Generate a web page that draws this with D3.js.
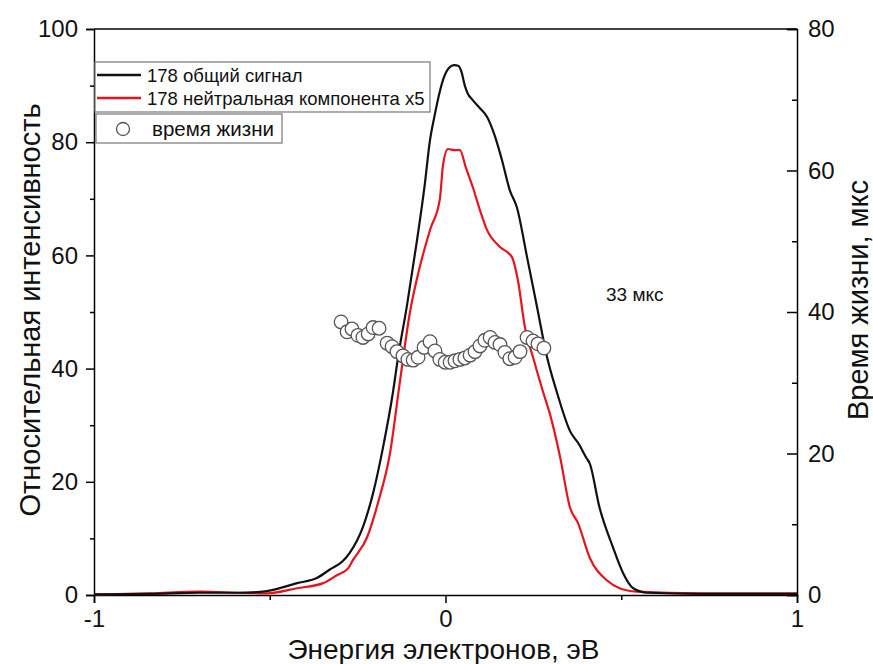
<!DOCTYPE html>
<html lang="ru">
<head>
<meta charset="utf-8">
<script src="https://d3js.org/d3.v7.min.js"></script>
<style>
  body { margin: 0; background: #fff; }
  text { font-family: "Liberation Sans", Arial, sans-serif; }
</style>
</head>
<body>
<script>
// total signal (left axis)
const totalE = [-1.0, -0.84, -0.70, -0.585, -0.508, -0.422, -0.366, -0.329, -0.292, -0.272, -0.235, -0.206, -0.178, -0.149, -0.135, -0.110, -0.081, -0.060, -0.044, -0.030, -0.016, -0.007, 0.002, 0.013, 0.025, 0.036, 0.045, 0.055, 0.064, 0.075, 0.098, 0.118, 0.141, 0.160, 0.183, 0.203, 0.232, 0.260, 0.289, 0.316, 0.354, 0.381, 0.401, 0.410, 0.438, 0.476, 0.505, 0.534, 0.574, 0.724, 1.0];
const totalI = [0.1, 0.2, 0.4, 0.4, 0.7, 2.1, 3.0, 4.5, 6.0, 7.5, 12.0, 18.0, 26, 36, 42, 51, 62.7, 72, 80.4, 85, 89, 91, 92.4, 93.3, 93.6, 93.5, 92.5, 90, 88.5, 87.6, 86, 84.5, 81, 77, 71.5, 68.5, 59.7, 51, 42, 36, 29, 26.5, 24.2, 23.3, 15.5, 8.5, 3.9, 1.2, 0.4, 0.2, 0.2];

// neutral component x5 (left axis)
const neutralE = [-1.0, -0.84, -0.70, -0.585, -0.508, -0.422, -0.348, -0.309, -0.277, -0.263, -0.223, -0.192, -0.158, -0.129, -0.101, -0.073, -0.044, -0.016, -0.007, 0.007, 0.027, 0.041, 0.058, 0.078, 0.098, 0.118, 0.155, 0.189, 0.206, 0.226, 0.249, 0.277, 0.297, 0.326, 0.354, 0.377, 0.411, 0.459, 0.495, 0.544, 0.724, 1.0];
const neutralI = [0.1, 0.3, 0.6, 0.4, 0.3, 1.2, 2.1, 3.5, 4.7, 6.2, 10.2, 16.3, 25, 38, 50, 58, 64.5, 70, 76, 78.8, 78.6, 78.6, 75.5, 72, 68, 64.5, 61.5, 59.7, 55.6, 47.3, 42, 36, 32, 24.4, 15.5, 12.7, 6.5, 2.6, 1.2, 0.6, 0.3, 0.3];

// lifetime, mks (right axis)
const lifeE = [-0.297, -0.280, -0.266, -0.249, -0.235, -0.220, -0.206, -0.189, -0.166, -0.152, -0.138, -0.121, -0.107, -0.092, -0.078, -0.061, -0.044, -0.030, -0.016, -0.001, 0.013, 0.027, 0.041, 0.055, 0.070, 0.084, 0.098, 0.112, 0.127, 0.141, 0.155, 0.169, 0.183, 0.198, 0.212, 0.232, 0.249, 0.263, 0.280];
const lifeT = [38.6, 37.2, 37.6, 36.7, 36.4, 36.9, 37.8, 37.7, 35.6, 35.1, 34.4, 33.8, 33.3, 33.2, 33.6, 35.0, 35.8, 34.5, 33.3, 32.9, 32.9, 33.1, 33.3, 33.5, 33.9, 34.4, 35.2, 36.0, 36.4, 35.7, 35.4, 34.3, 33.4, 33.6, 34.4, 36.4, 35.9, 35.5, 34.9];

const xTicks = [-1, 0, 1];
const xMinor = [-0.5, 0.5];
const yLeftTicks = [0, 20, 40, 60, 80, 100];
const yLeftMinor = [10, 30, 50, 70, 90];
const yRightTicks = [0, 20, 40, 60, 80];
const yRightMinor = [10, 30, 50, 70];

const legendLabels = ["178 общий сигнал", "178 нейтральная компонента x5", "время жизни"];

const width = 873, height = 664;
const margin = {top: 29, right: 76, bottom: 69, left: 94};
const w = width - margin.left - margin.right;
const h = height - margin.top - margin.bottom;

const svg = d3.select("body").append("svg")
    .attr("width", width)
    .attr("height", height);
const g = svg.append("g")
    .attr("transform", `translate(${margin.left},${margin.top})`);

const x = d3.scaleLinear().domain([-1, 1]).range([0, w]);
const y = d3.scaleLinear().domain([0, 100]).range([h, 0]);
const y2 = d3.scaleLinear().domain([0, 80]).range([h, 0]);

// frame top
g.append("line").attr("x1", 0).attr("x2", w).attr("y1", 0).attr("y2", 0)
    .attr("stroke", "#000").attr("stroke-width", 1.3);

function styleAxis(sel) {
    sel.select(".domain").attr("stroke", "#000").attr("stroke-width", 1.5);
    sel.selectAll(".tick line").attr("stroke", "#000").attr("stroke-width", 1.5);
    sel.selectAll(".tick text").attr("font-size", 24).attr("fill", "#111")
        .style("font-family", "'Liberation Sans', Arial, sans-serif");
}
function minorLines(s) {
    s.select(".domain").remove();
    s.selectAll("line").attr("stroke", "#000").attr("stroke-width", 1.5);
}

// bottom axis
const xAx = g.append("g").attr("transform", `translate(0,${h})`)
    .call(d3.axisBottom(x).tickValues(xTicks).tickSize(8).tickPadding(7).tickFormat(d => String(d)));
styleAxis(xAx);
g.append("g").attr("transform", `translate(0,${h})`)
    .call(d3.axisBottom(x).tickValues(xMinor).tickSize(5).tickFormat(""))
    .call(minorLines);

// left axis
const yAx = g.append("g")
    .call(d3.axisLeft(y).tickValues(yLeftTicks).tickSize(8).tickPadding(8));
styleAxis(yAx);
g.append("g")
    .call(d3.axisLeft(y).tickValues(yLeftMinor).tickSize(4).tickFormat(""))
    .call(minorLines);

// right axis (ticks inward)
const y2Ax = g.append("g").attr("transform", `translate(${w},0)`)
    .call(d3.axisRight(y2).tickValues(yRightTicks).tickSize(-10).tickPadding(11));
styleAxis(y2Ax);
g.append("g").attr("transform", `translate(${w},0)`)
    .call(d3.axisRight(y2).tickValues(yRightMinor).tickSize(-5).tickFormat(""))
    .call(minorLines);

// curves
const line = d3.line().curve(d3.curveMonotoneX).x(d => x(d[0])).y(d => y(d[1]));
const totalData = totalE.map((e, i) => [e, totalI[i]]);
const neutralData = neutralE.map((e, i) => [e, neutralI[i]]);

g.append("path").datum(neutralData)
    .attr("fill", "none").attr("stroke", "#e8141c").attr("stroke-width", 2.2)
    .attr("stroke-linejoin", "round").attr("d", line);
g.append("path").datum(totalData)
    .attr("fill", "none").attr("stroke", "#111").attr("stroke-width", 2.2)
    .attr("stroke-linejoin", "round").attr("d", line);

// lifetime points
g.selectAll("circle.life")
    .data(lifeE.map((e, i) => [e, lifeT[i]]))
    .enter().append("circle")
    .attr("class", "life")
    .attr("cx", d => x(d[0]))
    .attr("cy", d => y2(d[1]))
    .attr("r", 6.8)
    .attr("fill", "#fff")
    .attr("stroke", "#555")
    .attr("stroke-width", 1.3);

// legends
const leg = svg.append("g");
leg.append("rect").attr("x", 95).attr("y", 62).attr("width", 335).attr("height", 50)
    .attr("fill", "#fff").attr("stroke", "#777").attr("stroke-width", 1.2);
leg.append("line").attr("x1", 97).attr("x2", 141).attr("y1", 75).attr("y2", 75)
    .attr("stroke", "#111").attr("stroke-width", 2.4);
leg.append("line").attr("x1", 97).attr("x2", 141).attr("y1", 98).attr("y2", 98)
    .attr("stroke", "#e8141c").attr("stroke-width", 2.4);
leg.append("text").attr("x", 147).attr("y", 82).attr("font-size", 18.5).attr("fill", "#111").text(legendLabels[0]);
leg.append("text").attr("x", 147).attr("y", 105).attr("font-size", 18.5).attr("fill", "#111").text(legendLabels[1]);

leg.append("rect").attr("x", 96).attr("y", 114).attr("width", 186).attr("height", 29)
    .attr("fill", "#fff").attr("stroke", "#777").attr("stroke-width", 1.2);
leg.append("circle").attr("cx", 123).attr("cy", 129).attr("r", 6.5)
    .attr("fill", "#fff").attr("stroke", "#555").attr("stroke-width", 1.3);
leg.append("text").attr("x", 152).attr("y", 136).attr("font-size", 20.5).attr("fill", "#111").text(legendLabels[2]);

// annotation
svg.append("text").attr("x", 606).attr("y", 301).attr("font-size", 19).attr("fill", "#111").text("33 мкс");

// axis titles
svg.append("text").attr("x", margin.left + w / 2 - 2).attr("y", 659)
    .attr("text-anchor", "middle").attr("font-size", 28).attr("fill", "#111")
    .text("Энергия электронов, эВ");
svg.append("text").attr("transform", "translate(40,310) rotate(-90)")
    .attr("text-anchor", "middle").attr("font-size", 29).attr("fill", "#111")
    .text("Относительная интенсивность");
svg.append("text").attr("transform", "translate(868,300) rotate(-90)")
    .attr("text-anchor", "middle").attr("font-size", 29).attr("fill", "#111")
    .text("Время жизни, мкс");
</script>
</body>
</html>
